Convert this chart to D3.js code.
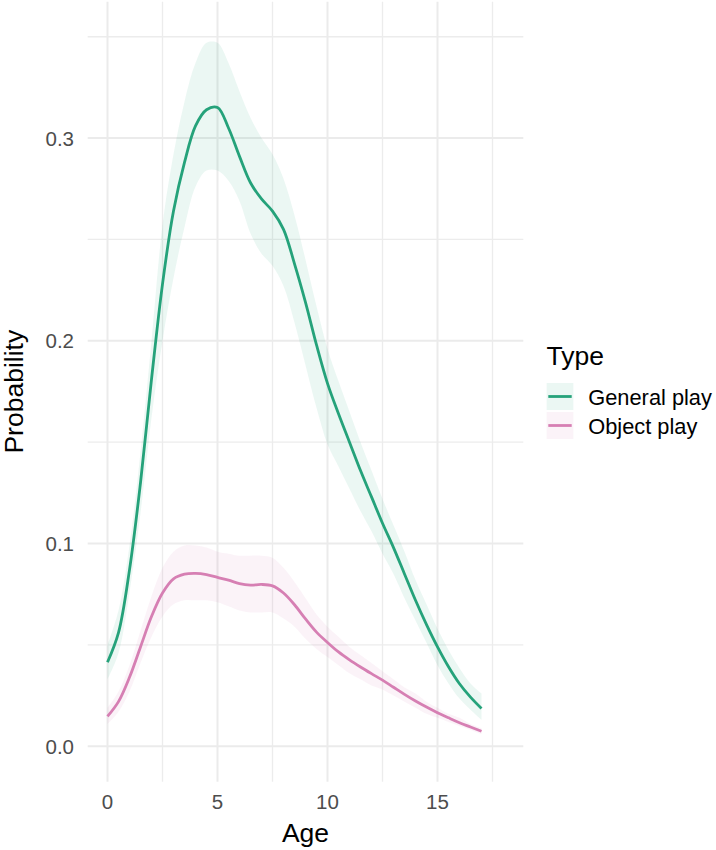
<!DOCTYPE html>
<html>
<head>
<meta charset="utf-8">
<script src="https://cdn.jsdelivr.net/npm/d3@7"></script>
<style>
  body { margin: 0; background: #fff; }
  text { font-family: "Liberation Sans", Arial, sans-serif; }
</style>
</head>
<body>
<div id="chart"></div>
<script>
// ----------------------------------------------------------------------------
// Data: values
// ----------------------------------------------------------------------------

const ages = [0, 0.5, 1, 1.5, 2, 2.5, 3, 3.5, 4, 4.5, 5, 5.5, 6, 6.5, 7, 7.5, 8, 8.5,
  9, 9.5, 10, 10.5, 11, 11.5, 12, 12.5, 13, 13.5, 14, 14.5, 15, 15.5, 16, 16.5, 17];

const generalMean = [0.0414, 0.056, 0.087, 0.130, 0.181, 0.228, 0.264, 0.288, 0.306, 0.314,
  0.3151, 0.305, 0.291, 0.278, 0.270, 0.264, 0.255, 0.238, 0.219, 0.198, 0.179, 0.164,
  0.150, 0.136, 0.123, 0.110, 0.098, 0.085, 0.072, 0.060, 0.049, 0.0392, 0.0308, 0.0242, 0.0186];
const generalUpper = [0.050, 0.067, 0.099, 0.145, 0.200, 0.257, 0.292, 0.318, 0.337, 0.347,
  0.347, 0.337, 0.323, 0.310, 0.300, 0.292, 0.280, 0.262, 0.240, 0.217, 0.196, 0.180,
  0.165, 0.150, 0.136, 0.122, 0.109, 0.096, 0.082, 0.070, 0.058, 0.0475, 0.0385, 0.031, 0.026];
const generalLower = [0.033, 0.046, 0.076, 0.115, 0.162, 0.200, 0.231, 0.256, 0.276, 0.284,
  0.284, 0.279, 0.269, 0.253, 0.243, 0.237, 0.227, 0.209, 0.188, 0.167, 0.149, 0.138,
  0.127, 0.116, 0.106, 0.095, 0.085, 0.073, 0.062, 0.051, 0.040, 0.031, 0.0235, 0.018, 0.013];

const objectMean = [0.0147, 0.022, 0.034, 0.049, 0.064, 0.0756, 0.0826, 0.0849, 0.0853, 0.0847,
  0.0833, 0.0819, 0.0802, 0.0795, 0.0798, 0.0791, 0.0756, 0.0698, 0.0628, 0.0563, 0.0512,
  0.0465, 0.0426, 0.0391, 0.0358, 0.0326, 0.0291, 0.0256, 0.0223, 0.0193, 0.0165, 0.0140,
  0.0116, 0.0095, 0.0074];
const objectUpper = [0.019, 0.027, 0.040, 0.057, 0.074, 0.088, 0.096, 0.099, 0.099, 0.098,
  0.096, 0.095, 0.094, 0.094, 0.094, 0.093, 0.088, 0.081, 0.073, 0.065, 0.059, 0.054,
  0.049, 0.045, 0.041, 0.037, 0.033, 0.029, 0.026, 0.022, 0.019, 0.016, 0.014, 0.011, 0.009];
const objectLower = [0.011, 0.017, 0.027, 0.041, 0.054, 0.064, 0.070, 0.072, 0.072, 0.072,
  0.071, 0.069, 0.067, 0.066, 0.066, 0.066, 0.063, 0.059, 0.053, 0.048, 0.044, 0.040,
  0.036, 0.033, 0.030, 0.028, 0.025, 0.022, 0.019, 0.016, 0.014, 0.012, 0.010, 0.008, 0.006];

const typeLabels = ['General play', 'Object play'];
const typeColors = ['#25a27a', '#d67fb3'];

const xMajorTicks = [0, 5, 10, 15];
const xMinorTicks = [2.5, 7.5, 12.5, 17.5];
const yMajorTicks = [0, 0.1, 0.2, 0.3];
const yMinorTicks = [0.05, 0.15, 0.25, 0.35];

// ----------------------------------------------------------------------------
// Layout
// ----------------------------------------------------------------------------

const W = 716, H = 850;
const panel = { left: 87.7, right: 523.3, top: 1.7, bottom: 781.7 };

const svg = d3.select('#chart').append('svg')
  .attr('width', W)
  .attr('height', H)
  .style('background', '#fff');

const xScale = d3.scaleLinear()
  .domain([-0.9, 18.9])
  .range([panel.left, panel.right]);

const yScale = d3.scaleLinear()
  .domain([-0.0175, 0.3673])
  .range([panel.bottom, panel.top]);

// ----------------------------------------------------------------------------
// grid
// ----------------------------------------------------------------------------

const grid = svg.append('g');

grid.selectAll('.xminor').data(xMinorTicks).enter().append('line')
  .attr('x1', d => xScale(d)).attr('x2', d => xScale(d))
  .attr('y1', panel.top).attr('y2', panel.bottom)
  .attr('stroke', '#ececec').attr('stroke-width', 1.3);

grid.selectAll('.yminor').data(yMinorTicks).enter().append('line')
  .attr('x1', panel.left).attr('x2', panel.right)
  .attr('y1', d => yScale(d)).attr('y2', d => yScale(d))
  .attr('stroke', '#ececec').attr('stroke-width', 1.3);

grid.selectAll('.xmajor').data(xMajorTicks).enter().append('line')
  .attr('x1', d => xScale(d)).attr('x2', d => xScale(d))
  .attr('y1', panel.top).attr('y2', panel.bottom)
  .attr('stroke', '#ebebeb').attr('stroke-width', 2);

grid.selectAll('.ymajor').data(yMajorTicks).enter().append('line')
  .attr('x1', panel.left).attr('x2', panel.right)
  .attr('y1', d => yScale(d)).attr('y2', d => yScale(d))
  .attr('stroke', '#ebebeb').attr('stroke-width', 2);

// ----------------------------------------------------------------------------
// ribbons and lines
// ----------------------------------------------------------------------------

const series = [
  { mean: generalMean, upper: generalUpper, lower: generalLower },
  { mean: objectMean, upper: objectUpper, lower: objectLower },
];

const area = d3.area()
  .x(d => xScale(d.age))
  .y0(d => yScale(d.lower))
  .y1(d => yScale(d.upper))
  .curve(d3.curveCatmullRom);

const valueline = d3.line()
  .x(d => xScale(d.age))
  .y(d => yScale(d.mean))
  .curve(d3.curveCatmullRom);

series.forEach((s, i) => {
  const rows = ages.map((a, j) => ({ age: a, mean: s.mean[j], upper: s.upper[j], lower: s.lower[j] }));
  svg.append('path')
    .attr('d', area(rows))
    .attr('fill', typeColors[i])
    .attr('fill-opacity', 0.09)
    .attr('stroke', 'none');
});

series.forEach((s, i) => {
  const rows = ages.map((a, j) => ({ age: a, mean: s.mean[j] }));
  svg.append('path')
    .attr('d', valueline(rows))
    .attr('fill', 'none')
    .attr('stroke', typeColors[i])
    .attr('stroke-width', 2.8)
    .attr('stroke-linejoin', 'round');
});

// ----------------------------------------------------------------------------
// axes (text only, theme_minimal style)
// ----------------------------------------------------------------------------

svg.append('g').selectAll('text').data(xMajorTicks).enter().append('text')
  .attr('x', d => xScale(d))
  .attr('y', 809)
  .attr('text-anchor', 'middle')
  .attr('font-size', '20.5px')
  .attr('fill', '#4d4d4d')
  .text(d => d);

svg.append('g').selectAll('text').data(yMajorTicks).enter().append('text')
  .attr('x', 74)
  .attr('y', d => yScale(d) + 7.4)
  .attr('text-anchor', 'end')
  .attr('font-size', '20.5px')
  .attr('fill', '#4d4d4d')
  .text(d => d3.format('.1f')(d));

svg.append('text')
  .text('Age')
  .attr('x', (panel.left + panel.right) / 2)
  .attr('y', 841.5)
  .attr('text-anchor', 'middle')
  .attr('font-size', '26.5px')
  .attr('fill', '#000');

svg.append('text')
  .text('Probability')
  .attr('transform', `translate(22.5, ${(panel.top + panel.bottom) / 2}) rotate(-90)`)
  .attr('text-anchor', 'middle')
  .attr('font-size', '26.5px')
  .attr('fill', '#000');

// ----------------------------------------------------------------------------
// legend
// ----------------------------------------------------------------------------

const legend = svg.append('g');

legend.append('text')
  .text('Type')
  .attr('x', 546.5)
  .attr('y', 365)
  .attr('font-size', '26.5px')
  .attr('fill', '#000');

typeLabels.forEach((lab, i) => {
  const cy = 396.5 + i * 29;
  legend.append('rect')
    .attr('x', 546.7).attr('y', cy - 13.5)
    .attr('width', 26.6).attr('height', 27)
    .attr('fill', typeColors[i])
    .attr('fill-opacity', 0.09);
  legend.append('line')
    .attr('x1', 548.3).attr('x2', 571.7)
    .attr('y1', cy).attr('y2', cy)
    .attr('stroke', typeColors[i])
    .attr('stroke-width', 2.8);
  legend.append('text')
    .text(lab)
    .attr('x', 588.3)
    .attr('y', cy + 8.8)
    .attr('font-size', '21.8px')
    .attr('fill', '#000');
});
</script>
</body>
</html>
